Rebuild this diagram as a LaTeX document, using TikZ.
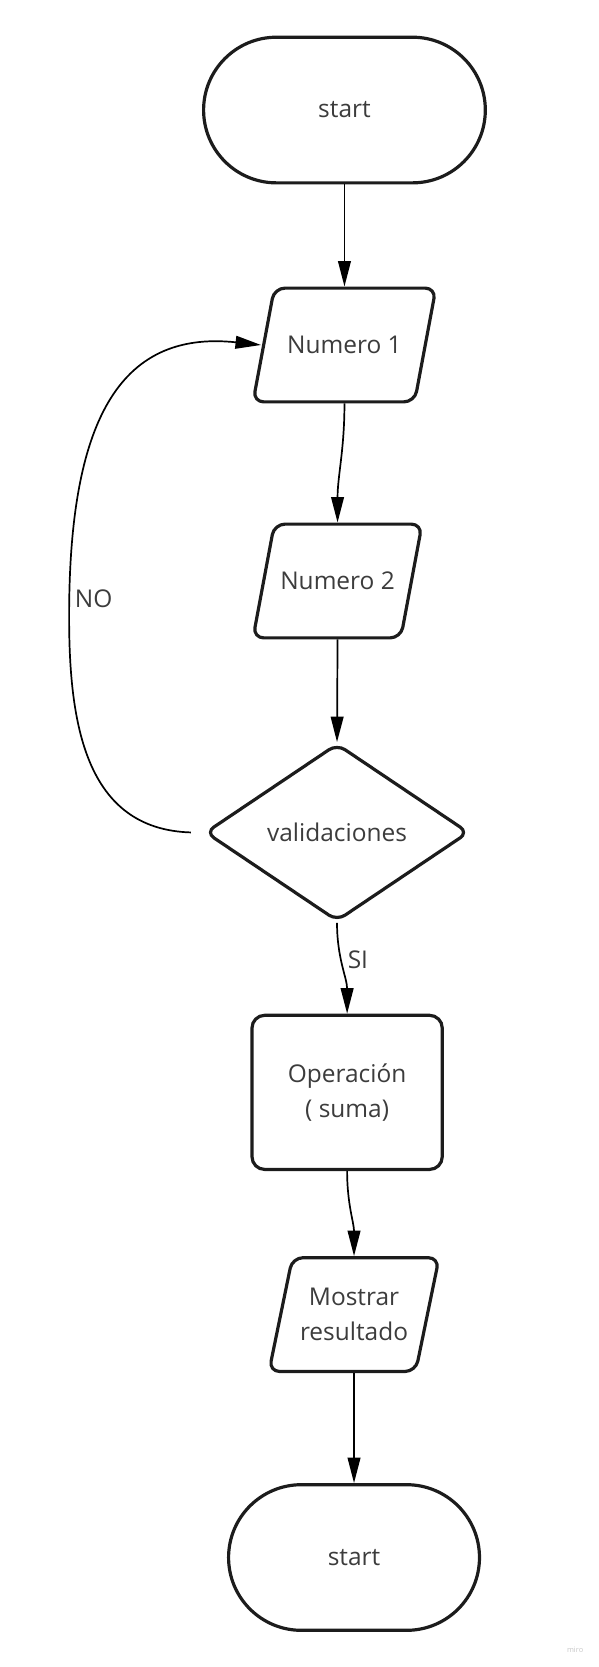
\documentclass[tikz,border=0pt]{standalone}
\usepackage{fontspec}
\setmainfont{Open Sans}
\usetikzlibrary{shapes.geometric,shapes.misc,arrows.meta,calc}
\definecolor{txt}{HTML}{3C3C3C}
\definecolor{outl}{HTML}{1C1C1C}
\tikzset{
  base/.style={draw=outl, line width=3pt, text=txt, font=\fontsize{23}{33}\selectfont, align=center, inner sep=2pt},
  term/.style={base, rounded rectangle, rounded rectangle arc length=180, minimum width=#1, minimum height=137pt},
  iobox/.style={rectangle, text=txt, font=\fontsize{23}{33}\selectfont, align=center, inner sep=2pt, outer sep=1.5pt, minimum width=#1, minimum height=107pt},
  ioline/.style={draw=outl, line width=3pt, rounded corners=10pt, line join=round},
  decision/.style={base, diamond, aspect=1.485, minimum width=248pt, minimum height=167pt, rounded corners=9pt},
  process/.style={base, rectangle, rounded corners=12pt, minimum width=179pt, minimum height=145pt},
  conn/.style={draw=black, line width=1.6pt, -{Triangle[length=24pt,width=12pt]}},
  lbl/.style={text=txt, font=\fontsize{23}{33}\selectfont, inner sep=0pt}
}
\newcommand{\iodraw}[2]{%
  \draw[ioline] ($(#1.south west)+(1.5,-1.5)$) -- ($(#1.north west)+(#2+1.5,1.5)$)
    -- ($(#1.north east)+(-1.5,1.5)$) -- ($(#1.south east)+(-#2-1.5,-1.5)$) -- cycle;}
\begin{document}
\begin{tikzpicture}[x=1pt, y=-1pt]
\useasboundingbox (0,0) rectangle (563.4,1568);
\node[term=269pt] (s1) at (324,103.5) {start};
\node[iobox=172pt] (n1) at (324,324.5) {Numero 1};
\node[iobox=159pt] (n2) at (317.5,546.5) {Numero 2};
\node[decision] (d) at (317,783) {validaciones};
\node[process] (op) at (326.5,1027.5) {Operación\\( suma)};
\node[iobox=160pt] (m) at (333,1236.5) {Mostrar\\resultado};
\node[term=240pt] (e) at (333,1465) {start};
\iodraw{n1}{20}
\iodraw{n2}{20}
\iodraw{m}{22}
\coordinate (nostart) at ($(d.west)+(-12,0)$);
\coordinate (nomid) at (65,580);
\coordinate (n1in) at ($(n1.west)+(9,0)$);

\draw[conn] (s1.south) -- (n1.north);
\draw[conn] (n1.south) to[out=-90,in=90] (n2.north);
\draw[conn] (n2.south) -- (d.north);
\draw[conn] (d.south) to[out=-90,in=90] node[lbl, pos=0.4, right=6pt] (si) {SI} (op.north);
\draw[conn] (op.south) to[out=-90,in=90] (m.north);
\draw[conn] (m.south) -- (e.north);
\draw[conn] (nostart) .. controls (80,780) and (65,680) .. (nomid)
  .. controls (65,400) and (110,310) .. (n1in);
\node[lbl] (no) at (88,563) {NO};
\node[text=black!22, font=\fontsize{7}{8}\selectfont, inner sep=0pt] (miro) at (541,1552) {miro};
\end{tikzpicture}
\end{document}
